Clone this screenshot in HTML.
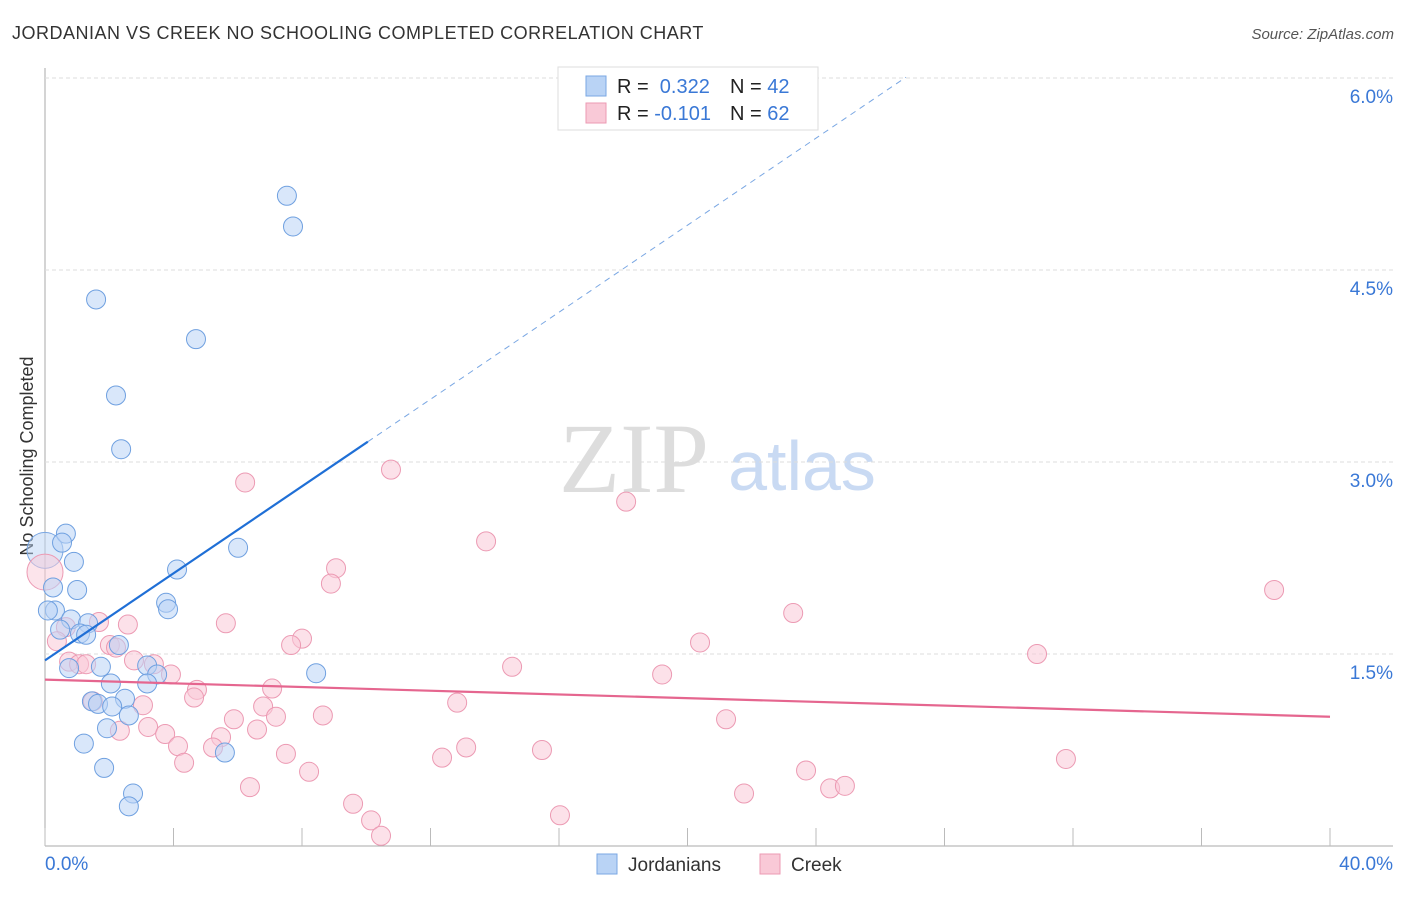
<!DOCTYPE html>
<html><head><meta charset="utf-8"><style>
body{margin:0;background:#fff;font-family:"Liberation Sans",sans-serif;}
svg text{font-family:"Liberation Sans",sans-serif;}
svg text.serif{font-family:"Liberation Serif",serif;}
</style></head><body>
<svg id="c" width="1406" height="892">
<text x="12" y="39" font-size="18" fill="#333" letter-spacing="0.5">JORDANIAN VS CREEK NO SCHOOLING COMPLETED CORRELATION CHART</text>
<text x="1394" y="39" font-size="15" fill="#555" font-style="italic" text-anchor="end">Source: ZipAtlas.com</text>
<text transform="translate(33,456) rotate(-90)" font-size="18" fill="#333" text-anchor="middle">No Schooling Completed</text>
<g>
<text class="serif" x="634" y="492" font-size="100" fill="#ddd" text-anchor="middle">ZIP</text>
<text x="802" y="490" font-size="70" fill="#c9daf3" text-anchor="middle">atlas</text></g>
<g id="grid"></g><g id="marks"></g>
<g>
<rect x="558" y="67" width="260" height="63" fill="#fff" stroke="#ddd"/>
<rect x="586" y="76" width="20" height="20" fill="#b9d3f5" stroke="#7aa7e3"/>
<rect x="586" y="103" width="20" height="20" fill="#f9c9d7" stroke="#ec9ab3"/>
<text x="617" y="93" font-size="20" fill="#222">R = <tspan fill="#3a78d6">&#160;0.322</tspan><tspan x="730">N = </tspan><tspan fill="#3a78d6">42</tspan></text>
<text x="617" y="120" font-size="20" fill="#222">R = <tspan fill="#3a78d6">-0.101</tspan><tspan x="730">N = </tspan><tspan fill="#3a78d6">62</tspan></text>
</g>
<g>
<rect x="597" y="854" width="20" height="20" fill="#b9d3f5" stroke="#7aa7e3"/>
<text x="628" y="871" font-size="19" fill="#333">Jordanians</text>
<rect x="760" y="854" width="20" height="20" fill="#f9c9d7" stroke="#ec9ab3"/>
<text x="791" y="871" font-size="19" fill="#333">Creek</text></g>
</svg>
<script>
const xTicks=[0,4,8,12,16,20,24,28,32,36,40];
const yTicks=[1.5,3.0,4.5,6.0];
const blueX=[7.53,7.72,1.59,4.70,2.21,2.37,0.65,0.53,6.01,0.90,4.11,0.25,1.00,3.77,3.83,0.31,0.81,1.34,1.09,1.28,2.30,0.47,1.74,0.75,3.18,3.49,8.44,2.05,3.18,2.49,1.46,1.65,2.09,2.61,1.93,5.60,1.21,1.84,2.74,2.61,0.09];
const blueY=[5.08,4.84,4.27,3.96,3.52,3.10,2.44,2.37,2.33,2.22,2.16,2.02,2.00,1.90,1.85,1.84,1.77,1.74,1.66,1.65,1.57,1.69,1.40,1.39,1.41,1.34,1.35,1.27,1.27,1.15,1.13,1.11,1.09,1.02,0.92,0.73,0.80,0.61,0.41,0.31,1.84];
const pinkX=[6.23,10.77,18.09,13.73,9.06,8.90,38.26,23.29,5.63,2.58,1.68,0.65,0.37,8.00,7.66,20.39,2.02,2.21,30.88,0.75,1.06,1.28,2.77,3.39,14.54,3.92,19.21,4.73,4.64,7.07,12.83,6.79,1.49,3.05,5.88,7.19,8.65,21.20,3.21,2.33,3.74,6.60,5.48,4.14,5.23,13.11,15.47,7.50,12.36,31.78,4.33,8.22,23.69,6.38,24.44,24.90,21.76,9.59,16.03,10.15,10.46];
const pinkY=[2.84,2.94,2.69,2.38,2.17,2.05,2.00,1.82,1.74,1.73,1.75,1.71,1.60,1.62,1.57,1.59,1.57,1.55,1.50,1.44,1.42,1.42,1.45,1.42,1.40,1.34,1.34,1.22,1.16,1.23,1.12,1.09,1.13,1.10,0.99,1.01,1.02,0.99,0.93,0.90,0.875,0.91,0.85,0.78,0.77,0.77,0.75,0.72,0.69,0.68,0.65,0.58,0.59,0.46,0.45,0.47,0.41,0.33,0.24,0.20,0.08];
const bigBlue=[0,2.31];const bigPink=[0,2.14];
const blueTrend=[1.45,0.170];const blueSolidEnd=10.05;const blueDashEnd=26.8;
const pinkTrend=[1.30,-0.00725];
const X=v=>45+v*32.125, Y=v=>846-v*128;
const NS="http://www.w3.org/2000/svg";
function mk(t,a,p){const e=document.createElementNS(NS,t);for(const k in a)e.setAttribute(k,a[k]);p.appendChild(e);return e;}
const g=document.getElementById('grid'), m=document.getElementById('marks');
let ax=mk('line',{x1:45,y1:68,x2:45,y2:846,stroke:'#aaa'},g);


let bx=mk('line',{x1:45,y1:846,x2:1393,y2:846,stroke:'#aaa'},g);


yTicks.forEach(v=>{
 let l=mk('line',{x1:45,y1:Y(v),x2:1393,y2:Y(v),stroke:'#ddd','stroke-dasharray':'4,3'},g);
 
 
 let t=mk('text',{x:1393,y:Y(v)+25,'font-size':19,fill:'#3a78d6','text-anchor':'end'},g);t.textContent=v.toFixed(1)+'%';
 
 
});
xTicks.forEach(v=>{
 let l=mk('line',{x1:X(v),y1:828,x2:X(v),y2:846,stroke:'#bbb'},g);
 
 
});
[[0,'start',45],[40,'end',1393]].forEach(([v,a,px])=>{let t=mk('text',{x:px,y:870,'font-size':19,fill:'#3a78d6','text-anchor':a},g);t.textContent=v.toFixed(1)+'%';
 
 });
function dots(xs,ys,fill,stroke,name){xs.forEach((x,i)=>{let c=mk('circle',{cx:X(x),cy:Y(ys[i]),r:9.5,fill:fill,'fill-opacity':0.55,stroke:stroke,'stroke-width':1},m);
 
 });}
let b1=mk('circle',{cx:X(bigBlue[0]),cy:Y(bigBlue[1]),r:18,fill:'#b9d3f5','fill-opacity':0.5,stroke:'#7aa7e3'},m);


let b2=mk('circle',{cx:X(bigPink[0]),cy:Y(bigPink[1]),r:18,fill:'#f9c9d7','fill-opacity':0.5,stroke:'#ec9ab3'},m);


dots(pinkX,pinkY,'#f9c9d7','#ec9ab3','creek-point');
dots(blueX,blueY,'#b9d3f5','#6fa0e0','jordanians-point');
const bf=x=>blueTrend[0]+blueTrend[1]*x, pf=x=>pinkTrend[0]+pinkTrend[1]*x;
let l1=mk('line',{x1:X(0),y1:Y(bf(0)),x2:X(blueSolidEnd),y2:Y(bf(blueSolidEnd)),stroke:'#1f6fd6','stroke-width':2.2},m);


let l2=mk('line',{x1:X(blueSolidEnd),y1:Y(bf(blueSolidEnd)),x2:X(blueDashEnd),y2:Y(bf(blueDashEnd)),stroke:'#7aa7e3','stroke-width':1,'stroke-dasharray':'6,5'},m);


let l3=mk('line',{x1:X(0),y1:Y(pf(0)),x2:X(40),y2:Y(pf(40)),stroke:'#e5668f','stroke-width':2.2},m);


</script>
</body></html>
